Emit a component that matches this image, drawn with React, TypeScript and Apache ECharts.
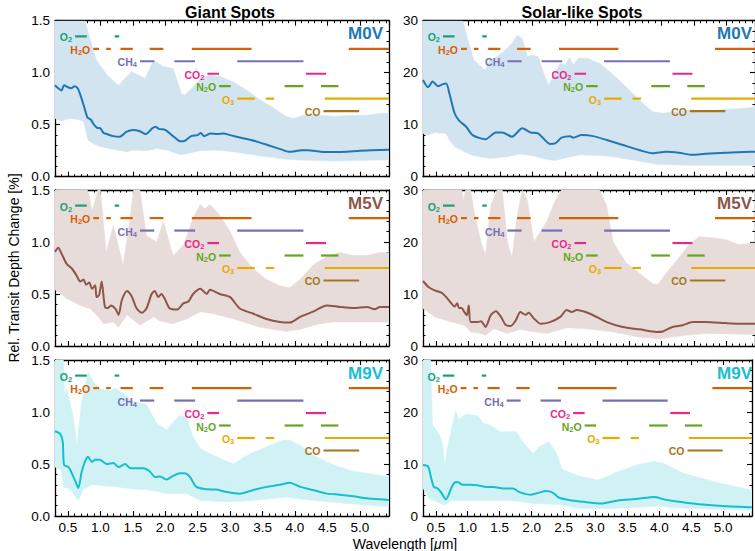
import React, { useEffect, useRef } from "react";
import * as echarts from "echarts";

const FONT = "'Liberation Sans', Arial, Helvetica, sans-serif";
const X_MIN = 0.3;
const X_MAX = 5.45;

// ---------- Giant spots ----------
const gM0Line = [[0.30,0.88],[0.35,0.85],[0.40,0.83],[0.44,0.88],[0.50,0.86],[0.55,0.85],[0.60,0.87],[0.65,0.85],[0.70,0.77],[0.75,0.67],[0.80,0.57],[0.85,0.55],[0.90,0.50],[0.95,0.47],[1.00,0.465],[1.05,0.42],[1.10,0.41],[1.20,0.39],[1.30,0.385],[1.40,0.43],[1.50,0.45],[1.60,0.44],[1.70,0.41],[1.80,0.465],[1.85,0.48],[1.90,0.46],[2.00,0.45],[2.10,0.40],[2.20,0.35],[2.25,0.34],[2.30,0.345],[2.40,0.39],[2.50,0.40],[2.55,0.42],[2.60,0.39],[2.70,0.415],[2.80,0.41],[2.90,0.415],[3.00,0.40],[3.20,0.37],[3.40,0.34],[3.60,0.30],[3.80,0.26],[3.90,0.24],[4.00,0.245],[4.10,0.255],[4.20,0.255],[4.40,0.24],[4.60,0.237],[4.80,0.24],[5.00,0.25],[5.20,0.255],[5.45,0.26]];
const gM0Up = [[0.30,1.5],[0.74,1.5],[0.76,1.5],[0.89,1.22],[0.94,1.12],[1.10,0.98],[1.28,0.88],[1.48,1.01],[1.69,0.945],[1.82,1.12],[1.97,1.06],[2.12,1.04],[2.25,0.80],[2.30,0.785],[2.41,0.85],[2.54,0.945],[2.69,0.98],[2.84,0.965],[3.05,0.91],[3.26,0.83],[3.46,0.74],[3.67,0.66],[3.87,0.58],[3.98,0.56],[4.13,0.59],[4.39,0.59],[4.59,0.58],[4.85,0.59],[5.11,0.59],[5.31,0.61],[5.45,0.61]];
const gM0Lo = [[0.30,0.56],[0.40,0.535],[0.53,0.56],[0.66,0.55],[0.74,0.53],[0.81,0.35],[0.89,0.32],[0.99,0.29],[1.25,0.256],[1.41,0.24],[1.51,0.256],[1.71,0.25],[1.87,0.27],[2.02,0.256],[2.23,0.21],[2.33,0.22],[2.54,0.25],[2.79,0.256],[3.05,0.24],[3.46,0.20],[3.87,0.167],[4.08,0.16],[4.59,0.15],[5.31,0.16],[5.45,0.16]];

const gM5Line = [[0.30,0.905],[0.35,0.945],[0.40,0.89],[0.48,0.79],[0.56,0.745],[0.63,0.68],[0.69,0.62],[0.74,0.64],[0.78,0.59],[0.83,0.61],[0.87,0.55],[0.92,0.585],[0.94,0.47],[0.98,0.49],[1.02,0.62],[1.07,0.376],[1.12,0.366],[1.16,0.39],[1.23,0.36],[1.28,0.30],[1.33,0.44],[1.41,0.53],[1.48,0.48],[1.56,0.36],[1.64,0.32],[1.71,0.36],[1.79,0.50],[1.84,0.53],[1.89,0.47],[1.94,0.50],[1.99,0.456],[2.07,0.36],[2.18,0.35],[2.28,0.41],[2.36,0.43],[2.43,0.50],[2.54,0.55],[2.60,0.52],[2.64,0.50],[2.69,0.54],[2.84,0.50],[3.00,0.47],[3.15,0.36],[3.36,0.31],[3.56,0.26],[3.77,0.23],[3.92,0.225],[4.08,0.28],[4.28,0.33],[4.49,0.39],[4.69,0.376],[4.90,0.366],[5.11,0.376],[5.23,0.353],[5.31,0.376],[5.45,0.376]];
const gM5Up = [[0.30,1.5],[0.80,1.5],[0.83,1.44],[0.87,1.30],[0.92,1.40],[0.96,1.5],[1.00,1.5],[1.03,1.30],[1.09,0.90],[1.20,1.16],[1.35,0.78],[1.45,1.20],[1.51,1.5],[1.61,1.5],[1.71,1.06],[1.87,1.00],[1.97,1.20],[2.12,0.87],[2.28,0.97],[2.43,1.23],[2.54,1.36],[2.61,1.32],[2.69,1.36],[2.84,1.26],[3.00,1.10],[3.15,0.90],[3.36,0.74],[3.56,0.64],[3.77,0.58],[3.92,0.56],[4.08,0.64],[4.28,0.78],[4.49,0.86],[4.69,0.90],[4.90,0.87],[5.11,0.87],[5.31,0.90],[5.45,0.90]];
const gM5Lo = [[0.30,0.54],[0.48,0.456],[0.69,0.39],[0.84,0.36],[0.94,0.30],[1.05,0.215],[1.20,0.23],[1.28,0.18],[1.41,0.30],[1.61,0.20],[1.82,0.28],[1.92,0.24],[2.12,0.215],[2.33,0.26],[2.54,0.33],[2.74,0.31],[3.05,0.26],[3.46,0.18],[3.87,0.14],[4.08,0.16],[4.39,0.215],[4.59,0.23],[5.45,0.23]];

const gM9Line = [[0.30,0.815],[0.38,0.79],[0.42,0.71],[0.44,0.49],[0.51,0.47],[0.56,0.41],[0.61,0.34],[0.66,0.27],[0.71,0.42],[0.76,0.52],[0.81,0.57],[0.87,0.52],[0.92,0.54],[0.99,0.54],[1.10,0.50],[1.20,0.51],[1.28,0.47],[1.38,0.50],[1.46,0.46],[1.66,0.46],[1.76,0.43],[1.84,0.376],[1.92,0.38],[2.02,0.35],[2.12,0.385],[2.23,0.41],[2.30,0.41],[2.38,0.376],[2.48,0.28],[2.64,0.257],[2.79,0.254],[2.95,0.23],[3.15,0.215],[3.36,0.25],[3.56,0.28],[3.77,0.30],[3.92,0.32],[4.08,0.28],[4.28,0.25],[4.49,0.215],[4.69,0.205],[4.90,0.19],[5.11,0.17],[5.31,0.16],[5.45,0.155]];
const gM9Up = [[0.30,1.5],[0.43,1.5],[0.45,1.16],[0.48,1.23],[0.58,0.96],[0.64,0.68],[0.71,1.10],[0.81,1.39],[0.89,1.29],[0.99,1.23],[1.15,1.20],[1.23,1.23],[1.35,1.18],[1.51,1.10],[1.71,1.07],[1.87,0.89],[2.02,0.83],[2.12,0.90],[2.23,0.97],[2.33,0.95],[2.43,0.76],[2.54,0.65],[2.74,0.585],[3.05,0.50],[3.26,0.585],[3.56,0.665],[3.82,0.73],[3.92,0.73],[4.08,0.68],[4.28,0.585],[4.49,0.52],[4.69,0.47],[4.90,0.43],[5.11,0.41],[5.31,0.39],[5.45,0.38]];
const gM9Lo = [[0.30,0.47],[0.40,0.44],[0.43,0.28],[0.53,0.26],[0.66,0.15],[0.74,0.26],[0.87,0.30],[1.25,0.28],[1.51,0.26],[1.76,0.25],[2.02,0.215],[2.33,0.215],[2.54,0.15],[2.95,0.135],[3.36,0.15],[3.87,0.18],[4.28,0.15],[4.80,0.12],[5.31,0.096],[5.45,0.09]];

// ---------- Solar-like spots ----------
const sM0Line = [[0.30,18.6],[0.38,17.2],[0.45,18.3],[0.53,17.4],[0.61,17.8],[0.66,17.9],[0.71,16.0],[0.79,12.2],[0.86,10.8],[0.97,9.6],[1.07,8.0],[1.27,7.2],[1.43,8.5],[1.53,8.5],[1.68,7.7],[1.84,9.3],[1.97,8.5],[2.09,8.3],[2.27,6.3],[2.35,6.4],[2.45,7.5],[2.58,7.8],[2.63,7.5],[2.76,8.0],[2.94,7.8],[3.15,7.05],[3.40,6.1],[3.66,5.1],[3.86,4.5],[4.07,4.8],[4.27,4.6],[4.48,4.2],[4.68,4.4],[4.99,4.6],[5.40,4.8],[5.45,4.8]];
const sM0Up = [[0.30,30],[0.90,30],[0.92,30],[0.99,26.6],[1.09,22.4],[1.20,21.2],[1.27,20.5],[1.33,22.4],[1.45,23.1],[1.58,24.4],[1.68,25.6],[1.76,27.2],[1.84,26.6],[1.92,23.1],[1.99,23.4],[2.09,23.1],[2.17,19.9],[2.25,17.6],[2.33,19.6],[2.43,21.8],[2.51,21.5],[2.57,22.9],[2.63,21.5],[2.71,22.8],[2.84,22.8],[3.04,21.8],[3.25,19.6],[3.45,17.3],[3.66,14.7],[3.86,12.5],[4.02,12.2],[4.17,12.5],[4.43,12.8],[4.68,12.5],[4.94,12.9],[5.20,13.1],[5.40,13.3],[5.45,13.3]];
const sM0Lo = [[0.30,8.3],[0.38,8.0],[0.48,8.5],[0.66,8.3],[0.71,7.05],[0.79,5.8],[0.94,4.8],[1.09,4.0],[1.35,3.5],[1.61,3.85],[1.81,4.36],[2.02,4.0],[2.22,3.3],[2.35,3.1],[2.53,3.7],[2.74,4.2],[3.15,4.0],[3.56,3.2],[3.92,2.4],[4.43,2.2],[5.45,2.2]];

const sM5Line = [[0.30,12.5],[0.38,11.4],[0.48,10.7],[0.58,10.3],[0.66,9.4],[0.74,8.2],[0.79,7.6],[0.83,8.2],[0.86,7.3],[0.90,7.3],[0.94,6.55],[0.98,5.9],[1.01,7.8],[1.04,4.6],[1.15,4.6],[1.20,4.75],[1.27,3.66],[1.35,5.9],[1.43,6.7],[1.51,5.6],[1.58,4.1],[1.66,3.85],[1.74,4.95],[1.81,6.55],[1.89,6.0],[1.94,6.4],[2.02,5.3],[2.12,4.3],[2.27,4.6],[2.43,5.6],[2.53,6.9],[2.61,6.55],[2.68,6.9],[2.89,6.2],[3.15,4.6],[3.40,3.66],[3.66,3.2],[3.92,2.7],[4.02,2.8],[4.17,3.66],[4.33,4.0],[4.48,4.6],[4.68,4.6],[4.99,4.4],[5.20,4.3],[5.45,4.3]];
const sM5Up = [[0.30,30],[0.90,30],[0.93,28],[0.96,30],[1.04,30],[1.09,26],[1.20,20],[1.27,17.5],[1.35,27],[1.45,30],[1.53,30],[1.61,20],[1.68,17],[1.76,25],[1.84,30],[1.92,28],[2.02,20],[2.12,22],[2.22,24],[2.35,28],[2.45,30],[3.04,30],[3.15,27],[3.25,20],[3.45,16],[3.66,14],[3.86,12],[3.94,11.8],[4.07,14],[4.27,17],[4.43,19.5],[4.58,21],[4.79,20.8],[4.99,20.5],[5.20,19.5],[5.40,19.8],[5.45,19.8]];
const sM5Lo = [[0.30,7.2],[0.48,5.6],[0.74,4.6],[0.94,4.0],[1.04,2.7],[1.20,2.4],[1.27,2.05],[1.40,3.3],[1.61,2.4],[1.81,3.2],[2.02,2.7],[2.22,2.4],[2.53,3.5],[2.84,3.3],[3.25,2.7],[3.66,1.7],[3.97,1.4],[4.38,2.05],[4.68,2.4],[5.45,2.2]];

const sM9Line = [[0.30,9.8],[0.38,9.5],[0.43,7.2],[0.47,5.6],[0.53,5.3],[0.58,4.6],[0.66,3.2],[0.74,5.3],[0.79,6.4],[0.84,6.55],[0.92,6.0],[1.04,6.0],[1.15,5.9],[1.30,5.6],[1.40,5.6],[1.56,5.3],[1.71,5.3],[1.81,4.6],[1.99,4.1],[2.12,4.5],[2.22,4.8],[2.33,4.5],[2.43,3.5],[2.63,3.0],[2.84,2.7],[3.09,2.4],[3.35,3.0],[3.66,3.3],[3.92,3.66],[4.07,3.2],[4.27,2.8],[4.53,2.4],[4.68,2.2],[4.99,1.9],[5.40,1.7],[5.45,1.7]];
const sM9Up = [[0.30,30],[0.42,30],[0.45,17.5],[0.56,15.6],[0.61,13.6],[0.64,9.8],[0.69,13.6],[0.76,17.5],[0.81,20.3],[0.86,18.6],[0.97,19.6],[1.15,19.3],[1.25,17.8],[1.35,17.5],[1.51,16.2],[1.76,16.2],[1.86,14.3],[2.02,12.0],[2.12,13.3],[2.27,14.3],[2.38,12.3],[2.48,9.0],[2.74,7.7],[3.04,6.9],[3.35,8.5],[3.66,9.9],[3.92,10.5],[4.07,10.1],[4.38,8.2],[4.68,7.2],[4.99,6.2],[5.40,5.1],[5.45,5.0]];
const sM9Lo = [[0.30,5.3],[0.40,3.3],[0.64,2.05],[0.74,3.0],[1.61,3.0],[1.81,2.8],[2.02,2.4],[2.43,2.2],[2.74,1.5],[3.15,1.4],[3.66,1.7],[3.97,1.9],[4.38,1.5],[4.89,1.3],[5.45,1.1]];

// ---------- Molecular bands (wavelength ranges, level as fraction of y-range) ----------
// label as [main, subscript, main] pieces
const MOL_LABELS = [["O", "2", ""], ["H", "2", "O"], ["CH", "4", ""], ["CO", "2", ""], ["N", "2", "O"], ["O", "3", ""], ["CO", "", ""]];
const MOL_COLORS = ["#1b9e77", "#d95f02", "#7570b3", "#e7298a", "#66a61e", "#e6ab02", "#a6761d"];
const MOL_LEVELS = [0.90, 0.82, 0.74, 0.66, 0.58, 0.50, 0.42];
const MOL_SEGS = [
  [[0.61, 0.79], [1.22, 1.29]],
  [[0.89, 0.98], [1.09, 1.16], [1.31, 1.50], [1.76, 1.97], [2.41, 3.33], [4.83, 5.45]],
  [[1.61, 1.83], [2.14, 2.46], [3.11, 4.13]],
  [[2.65, 2.83], [4.17, 4.48]],
  [[2.83, 3.01], [3.84, 4.13], [4.40, 4.67]],
  [[3.11, 3.38], [3.55, 3.68], [4.46, 5.45]],
  [[4.44, 4.99]],
];

const STAR_NAMES = ["M0V", "M5V", "M9V"];
const STAR_COLORS = ["#1f77b4", "#8c564b", "#17becf"];
const STAR_FILLS = ["#d2e4f0", "#e8dcda", "#d1f2f5"];
const COL_TITLES = ["Giant Spots", "Solar-like Spots"];
const Y_MAX = [1.5, 30];

const LINES = [[gM0Line, gM5Line, gM9Line], [sM0Line, sM5Line, sM9Line]];
const UPPERS = [[gM0Up, gM5Up, gM9Up], [sM0Up, sM5Up, sM9Up]];
const LOWERS = [[gM0Lo, gM5Lo, gM9Lo], [sM0Lo, sM5Lo, sM9Lo]];

// layout
const GRID_LEFT = [55, 423];
const GRID_WIDTH = [334, 335];
const GRID_TOP = [20.7, 190, 360];
const GRID_HEIGHT = 156;

function molText(k: number) {
  const [a, s, b] = MOL_LABELS[k];
  let t = `{n|${a}}`;
  if (s) t += `{s|${s}}`;
  if (b) t += `{n|${b}}`;
  return t;
}

export default function App() {
  const ref = useRef<HTMLDivElement>(null);
  useEffect(() => {
    if (!ref.current) return;
    const chart = echarts.init(ref.current, undefined, { renderer: "svg" });

    const grids: any[] = [];
    const xAxes: any[] = [];
    const yAxes: any[] = [];
    const series: any[] = [];
    const graphics: any[] = [];

    const axisLine = { show: true, onZero: false, lineStyle: { color: "#000", width: 1.3 } };
    const axisTick = { show: true, inside: true, length: 5, lineStyle: { color: "#000", width: 1.1 } };
    const minorTick = { show: true, splitNumber: 5, length: 2.5, lineStyle: { color: "#000", width: 1 } };

    const panels: any[] = [];
    for (let c = 0; c < 2; c++) {
      for (let r = 0; r < 3; r++) {
        panels.push({ c, r });
      }
    }
    const nP = panels.length;

    panels.forEach((p, i) => {
      const { c, r } = p;
      const ymax = Y_MAX[c];
      grids.push({ left: GRID_LEFT[c], top: GRID_TOP[r], width: GRID_WIDTH[c], height: GRID_HEIGHT });
      const xBase = {
        type: "value", gridIndex: i, min: X_MIN, max: X_MAX, splitNumber: 10,
        axisLine, axisTick, minorTick,
        splitLine: { show: false }, minorSplitLine: { show: false },
      };
      xAxes[i] = {
        ...xBase, position: "bottom",
        axisLabel: {
          show: r === 2, color: "#000", fontSize: 13.5, fontFamily: FONT, margin: 4,
          formatter: (v: number) => (Math.abs(v * 2 - Math.round(v * 2)) < 1e-6 ? v.toFixed(1) : ""),
        },
      };
      xAxes[nP + i] = { ...xBase, position: "top", axisLabel: { show: false } };
      const yBase = {
        type: "value", gridIndex: i, min: 0, max: ymax, interval: ymax / 3,
        axisLine, axisTick, minorTick,
        splitLine: { show: false }, minorSplitLine: { show: false },
      };
      yAxes[i] = {
        ...yBase, position: "left",
        axisLabel: {
          color: "#000", fontSize: 13.5, lineHeight: 12, fontFamily: FONT, margin: 5,
          formatter: (v: number) => (ymax === 1.5 ? v.toFixed(1) : String(Math.round(v))),
        },
      };
      yAxes[nP + i] = { ...yBase, position: "right", axisLabel: { show: false } };

      const upper = UPPERS[c][r];
      const lower = LOWERS[c][r];
      const fill = STAR_FILLS[r];
      series.push({
        type: "custom", xAxisIndex: i, yAxisIndex: i, clip: true, silent: true, z: 1,
        data: [[X_MIN, 0]],
        renderItem: (_params: any, api: any) => {
          const pts = upper.map((d) => api.coord(d)).concat(lower.slice().reverse().map((d) => api.coord(d)));
          return { type: "polygon", shape: { points: pts }, style: { fill, stroke: fill, lineWidth: 0.5 } };
        },
      });
      series.push({
        type: "line", xAxisIndex: i, yAxisIndex: i, data: LINES[c][r], showSymbol: false, symbol: "none",
        smooth: 0.25, lineStyle: { color: STAR_COLORS[r], width: 2 }, z: 3, silent: true,
      });
      series.push({
        type: "custom", xAxisIndex: i, yAxisIndex: i, clip: true, silent: true, z: 4,
        data: MOL_LABELS.map((_n, k) => [k, 0]),
        renderItem: (params: any, api: any) => {
          const k = params.dataIndex;
          const yv = MOL_LEVELS[k] * ymax;
          const color = MOL_COLORS[k];
          const children: any[] = MOL_SEGS[k].map((s) => {
            const a = api.coord([s[0], yv]);
            const b = api.coord([s[1], yv]);
            return { type: "line", shape: { x1: a[0], y1: a[1], x2: b[0], y2: b[1] }, style: { stroke: color, lineWidth: 2.2 } };
          });
          const st = api.coord([MOL_SEGS[k][0][0], yv]);
          children.push({
            type: "text",
            style: {
              text: molText(k), x: st[0] - 3, y: st[1] + 1, align: "right", verticalAlign: "middle",
              rich: {
                n: { fill: color, fontSize: 10.5, fontWeight: "bold", fontFamily: FONT, lineHeight: 13, verticalAlign: "middle" },
                s: { fill: color, fontSize: 7.5, fontWeight: "bold", fontFamily: FONT, lineHeight: 8, verticalAlign: "bottom" },
              },
            },
          });
          return { type: "group", children };
        },
      });

      graphics.push({
        type: "text",
        x: GRID_LEFT[c] + GRID_WIDTH[c] - 6, y: GRID_TOP[r] + 13,
        style: {
          text: STAR_NAMES[r], fill: STAR_COLORS[r], fontSize: 17, fontWeight: "bold", fontFamily: FONT,
          align: "right", verticalAlign: "middle",
        },
        z: 10,
      });
    });

    graphics.push({
      type: "text", x: 230, y: 12,
      style: { text: COL_TITLES[0], fill: "#000", fontSize: 16, fontWeight: "bold", fontFamily: FONT, align: "center", verticalAlign: "middle" },
    });
    graphics.push({
      type: "text", x: 582, y: 12,
      style: { text: COL_TITLES[1], fill: "#000", fontSize: 16, fontWeight: "bold", fontFamily: FONT, align: "center", verticalAlign: "middle" },
    });
    graphics.push({
      type: "text", x: 14, y: 268, rotation: Math.PI / 2,
      style: { text: "Rel. Transit Depth Change [%]", fill: "#000", fontSize: 14, fontFamily: FONT, align: "center", verticalAlign: "middle" },
    });
    graphics.push({
      type: "text", x: 405, y: 543.5,
      style: {
        text: "{a|Wavelength [}{i|μ}{a|m]}", align: "center", verticalAlign: "middle",
        rich: {
          a: { fontSize: 14, fontFamily: FONT, fill: "#000" },
          i: { fontSize: 14, fontFamily: FONT, fontStyle: "italic", fill: "#000" },
        },
      },
    });

    chart.setOption({
      animation: false,
      backgroundColor: "#fff",
      grid: grids,
      xAxis: xAxes,
      yAxis: yAxes,
      series,
      graphic: graphics,
    });
    return () => chart.dispose();
  }, []);
  return <div ref={ref} style={{ position: "absolute", left: 0, top: 0, width: 755, height: 551 }} />;
}
